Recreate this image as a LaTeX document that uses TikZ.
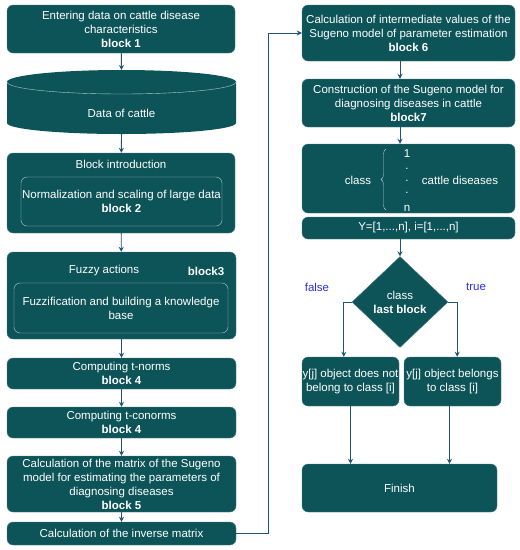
\documentclass[tikz,border=0pt]{standalone}
\usepackage{fontspec}
\setmainfont{Liberation Sans}
\usetikzlibrary{arrows.meta,shapes.geometric,decorations.pathreplacing}
\definecolor{boxfill}{RGB}{13,84,89}
\definecolor{boxline}{RGB}{80,125,130}
\definecolor{arrcol}{RGB}{30,85,120}
\definecolor{inline}{RGB}{175,205,205}
\definecolor{labblue}{RGB}{45,45,235}
\begin{document}
\begin{tikzpicture}[x=1pt,y=-1pt,
	font=\fontsize{11.5}{14}\selectfont,
	blk/.style={draw=boxline,fill=boxfill,rounded corners=6pt,text=white,align=center,inner sep=0pt},
	inblk/.style={draw=inline,rounded corners=6pt,text=white,align=center,inner sep=0pt},
	txt/.style={text=white,inner sep=0pt,align=center},
	arr/.style={draw=arrcol,line width=0.9pt,-{Stealth[length=5pt,width=5pt]}}]
	\useasboundingbox (0,0) rectangle (520,550);
	% Left column
	\node[blk,minimum width=228pt,minimum height=48pt] (b1) at (121,29) {Entering data on cattle disease\\characteristics\\\textbf{block 1}};
	% Data store
	\fill[boxfill] (7,82) -- (7,123) arc[start angle=180,end angle=0,x radius=114.5,y radius=11] -- (236,82) arc[start angle=0,end angle=-180,x radius=114.5,y radius=12] -- cycle;
	\draw[inline] (7,82) arc[start angle=180,end angle=0,x radius=114.5,y radius=12];
	\node[txt] (data) at (121.5,113) {Data of cattle};
	\coordinate (datatop) at (121.5,70);
	\coordinate (databot) at (121.5,134);
	% Introduction
	\node[blk,minimum width=228pt,minimum height=80pt] (intro) at (121,193) {};
	\node[txt] (introtitle) at (121,164) {Block introduction};
	\node[inblk,minimum width=201pt,minimum height=49pt] (norm) at (121.5,201.5) {Normalization and scaling of large data\\\textbf{block 2}};
	% Fuzzy actions
	\node[blk,minimum width=229pt,minimum height=87pt] (fuzzy) at (121.5,295.5) {};
	\node[txt] (fuzzytitle) at (104,271) {Fuzzy actions};
	\node[txt] (fuzzyblk) at (206,271) {\textbf{block3}};
	\node[inblk,minimum width=214pt,minimum height=50pt] (fuzzif) at (121,308) {Fuzzification and building a knowledge\\base};
	% Norms
	\node[blk,minimum width=229pt,minimum height=31pt] (tnorm) at (121.5,373.5) {Computing t-norms\\\textbf{block 4}};
	\node[blk,minimum width=229pt,minimum height=31pt] (tconorm) at (121.5,422.5) {Computing t-conorms\\\textbf{block 4}};
	\node[blk,minimum width=229pt,minimum height=56pt] (matrix) at (121.5,484) {Calculation of the matrix of the Sugeno\\model for estimating the parameters of\\diagnosing diseases\\\textbf{block 5}};
	\node[blk,minimum width=229pt,minimum height=23pt] (inv) at (121.5,533.5) {Calculation of the inverse matrix};
	% Right column
	\node[blk,minimum width=213pt,minimum height=56pt] (b6) at (408.5,33) {Calculation of intermediate values of the\\Sugeno model of parameter estimation\\\textbf{block 6}};
	\node[blk,minimum width=213pt,minimum height=48pt] (b7) at (408.5,103) {Construction of the Sugeno model for\\diagnosing diseases in cattle\\\textbf{block7}};
	\node[blk,minimum width=213pt,minimum height=69pt] (classes) at (408.5,178.5) {};
	\node[txt] (cls) at (358,180) {class};
	\draw[inline,decorate,decoration={brace,amplitude=5pt}] (386,210) -- (386,149);
	\node[txt] (one) at (407,154) {1};
	\node[txt] (dots) at (407,180.5) {.\\[-2pt].\\[-2pt].};
	\node[txt] (en) at (407,208) {n};
	\node[txt] (dis) at (460,180) {cattle diseases};
	\node[blk,minimum width=213pt,minimum height=22pt] (ybox) at (408.5,228) {Y=[1,...,n], i=[1,...,n]};
	% Decision
	\node[diamond,draw=boxline,fill=boxfill,minimum width=96pt,minimum height=91pt,inner sep=0pt,text=white,align=center] (dia) at (400,302) {class\\\textbf{last block}};
	\node[text=labblue,inner sep=0pt] (lfalse) at (317,287) {false};
	\node[text=labblue,inner sep=0pt] (ltrue) at (476,287) {true};
	\node[blk,minimum width=97pt,minimum height=49pt] (no) at (350.5,381.5) {y[j] object does not\\belong to class [i]};
	\node[blk,minimum width=97pt,minimum height=49pt] (yes) at (452.5,381.5) {y[j] object belongs\\to class [i]};
	\node[blk,minimum width=195pt,minimum height=48pt] (fin) at (399.5,488) {Finish};
	% Arrows
	\draw[arr] (b1) -- (datatop);
	\draw[arr] (databot) -- (intro);
	\draw[arr] (intro) -- (fuzzy);
	\draw[arr] (fuzzy) -- (tnorm);
	\draw[arr] (tnorm) -- (tconorm);
	\draw[arr] (tconorm) -- (matrix);
	\draw[arr] (matrix) -- (inv);
	\draw[arr] (inv.east) -- ++(32,0) |- (b6.west);
	\draw[arr] (b6.south -| dia) -- (b7.north -| dia);
	\draw[arr] (b7.south -| dia) -- (classes.north -| dia);
	\draw[arr] (ybox.south -| dia) -- (dia.north);
	\draw[arr] (dia.west) -- ++(-8,0) coordinate (fl) -- (fl |- no.north);
	\draw[arr] (dia.east) -- ++(9,0) coordinate (tr) -- (tr |- yes.north);
	\draw[arr] (no.south) -- (no.south |- fin.north);
	\draw[arr] ([xshift=-3pt]yes.south) -- ([xshift=-3pt]yes.south |- fin.north);
\end{tikzpicture}
\end{document}
